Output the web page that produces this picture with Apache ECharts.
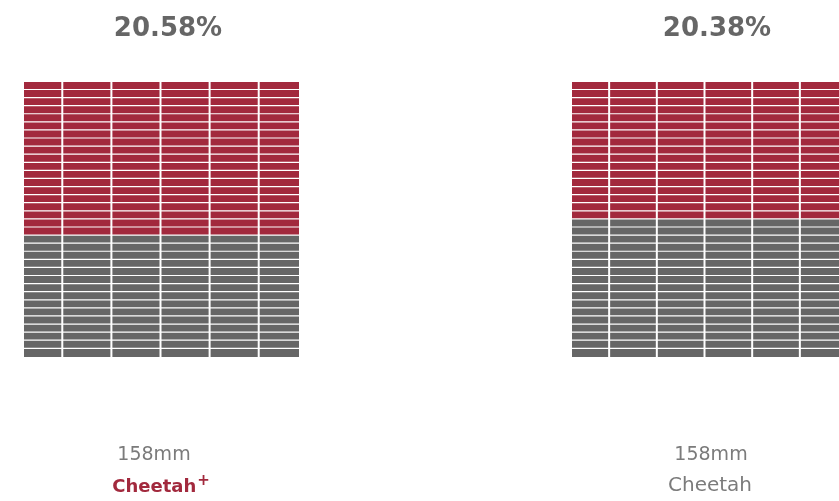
<!DOCTYPE html>
<html>
<head>
<meta charset="utf-8">
<script src="https://cdn.jsdelivr.net/npm/echarts@6/dist/echarts.min.js"></script>
<style>
html,body{margin:0;padding:0;background:#fff;}
#chart{width:839px;height:501px;}
</style>
</head>
<body>
<div id="chart"></div>
<script>
// ---- data ----
const percentLabels = ['20.58%', '20.38%'];
const sizeLabels = ['158mm', '158mm'];
const nameLabels = ['Cheetah', 'Cheetah'];
const namePlus = [true, false];
const redRows = [19, 17];          // filled (red) rows counted from the top
const totalRows = 34;               // rows in each block
const columnUnits = [4, 5, 5, 5, 5, 4]; // relative widths of the columns

const RED = '#A2293D';
const GRAY = '#666666';

const chart = echarts.init(document.getElementById('chart'), null, {renderer: 'canvas'});

const totalUnits = columnUnits.reduce((a, b) => a + b, 0);
const colEdges = [0];
columnUnits.forEach(u => colEdges.push(colEdges[colEdges.length - 1] + u));

function buildCells(red) {
  const cells = [];
  for (let r = 0; r < totalRows; r++) {
    for (let c = 0; c < columnUnits.length; c++) {
      cells.push([colEdges[c], colEdges[c + 1], r, r < red ? 1 : 0, c === columnUnits.length - 1 ? 1 : 0, r === totalRows - 1 ? 1 : 0]);
    }
  }
  return cells;
}

function renderCell(params, api) {
  const x0 = api.value(0), x1 = api.value(1), row = api.value(2);
  const s = api.coord([x0, row]);
  const e = api.coord([x1, row + 1]);
  const lastCol = api.value(4) === 1;
  const lastRow = api.value(5) === 1;
  const w = (e[0] - s[0]) - (lastCol ? 0 : 2);
  const h = (e[1] - s[1]) - (lastRow ? 0 : 1.2);
  return {
    type: 'rect',
    shape: {x: s[0], y: s[1], width: w, height: h},
    style: {fill: api.value(3) === 1 ? RED : GRAY}
  };
}

const gridLefts = [24, 572];
const grids = gridLefts.map(l => ({left: l, top: 82, width: 275, height: 275, containLabel: false}));
const xAxes = gridLefts.map((l, i) => ({type: 'value', gridIndex: i, min: 0, max: totalUnits, show: false}));
const yAxes = gridLefts.map((l, i) => ({type: 'value', gridIndex: i, min: 0, max: totalRows, inverse: true, show: false}));
const series = redRows.map((red, i) => ({
  type: 'custom',
  xAxisIndex: i,
  yAxisIndex: i,
  clip: false,
  renderItem: renderCell,
  data: buildCells(red),
  silent: true,
  animation: false
}));

const titleCenters = [168, 717];
const sizeCenters = [154, 711];
const nameCenters = [161, 710];
const graphics = [];
percentLabels.forEach((t, i) => {
  graphics.push({
    type: 'text', x: titleCenters[i], y: 29,
    style: {text: t, fill: '#666666', font: 'bold 26px "DejaVu Sans"', align: 'center', verticalAlign: 'middle'}
  });
  graphics.push({
    type: 'text', x: sizeCenters[i], y: 455,
    style: {text: sizeLabels[i], fill: '#7b7b7b', font: '19px "DejaVu Sans"', align: 'center', verticalAlign: 'middle'}
  });
  if (namePlus[i]) {
    graphics.push({
      type: 'text', x: nameCenters[i], y: 487,
      style: {
        text: '{n|' + nameLabels[i] + '}{p|+}',
        align: 'center', verticalAlign: 'middle',
        rich: {
          n: {fill: RED, font: 'bold 18px "DejaVu Sans"'},
          p: {fill: RED, font: 'bold 15px "DejaVu Sans"', verticalAlign: 'top', padding: [0, 0, 12, 1]}
        }
      }
    });
  } else {
    graphics.push({
      type: 'text', x: nameCenters[i], y: 486,
      style: {text: nameLabels[i], fill: '#7b7b7b', font: '20px "DejaVu Sans"', align: 'center', verticalAlign: 'middle'}
    });
  }
});

chart.setOption({
  backgroundColor: '#ffffff',
  animation: false,
  grid: grids,
  xAxis: xAxes,
  yAxis: yAxes,
  series: series,
  graphic: graphics
});
</script>
</body>
</html>
